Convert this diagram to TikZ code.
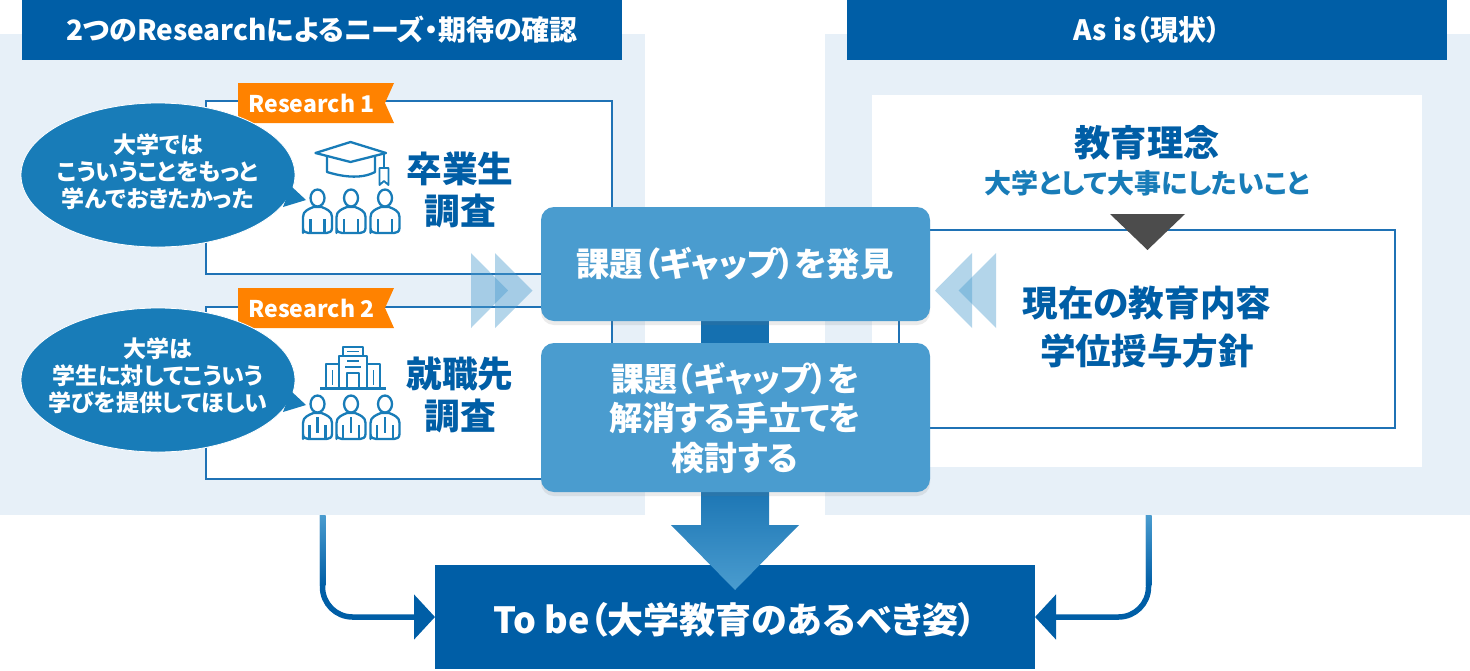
\documentclass[tikz,border=0pt]{standalone}
\usepackage{fontspec}
\setmainfont{Noto Sans CJK JP}[RawFeature={+palt}]
\usetikzlibrary{shapes.geometric,arrows.meta,shadows}
\definecolor{navy}{HTML}{005EA6}
\definecolor{sky}{HTML}{4A9CCF}
\definecolor{pale}{HTML}{E7F0F8}
\definecolor{orng}{HTML}{FF8200}
\definecolor{bub}{HTML}{187CB8}
\definecolor{edge}{HTML}{1F72B5}
\definecolor{mid}{HTML}{1570B0}
\newcommand{\fs}[2]{\fontsize{#1}{#2}\selectfont\bfseries}
\tikzset{
  x=1pt,y=-1pt,
  rect/.style={anchor=north west,inner sep=0pt,outer sep=0pt,text=white},
  panel/.style={rect,fill=pale},
  head/.style={rect,fill=navy},
  frame/.style={rect,fill=white,draw=edge,line width=1.5pt},
  bubble/.style={ellipse,fill=bub,draw=white,line width=.8pt,inner sep=0pt,minimum width=274pt,minimum height=144pt},
  bubbletext/.style={inner sep=0pt,text=white,align=center,font=\fs{23}{27}},
  tail/.style={fill=bub},
  ribbon/.style={fill=orng},
  ribbontext/.style={inner sep=0pt,text=white,font=\fs{23}{26}},
  title/.style={inner sep=0pt,text=navy,align=center,font=\fs{35.7}{41.5}},
  action/.style={rect,fill=sky,rounded corners=13pt,drop shadow={shadow xshift=0pt,shadow yshift=-4pt,opacity=.14,fill=black!55},align=center},
  chev/.style={fill=sky,fill opacity=.42},
  ico/.style={draw=bub,line width=2.3pt,line join=round,fill=white},
  link/.style={draw=navy,line width=5.5pt,rounded corners=30pt,-{Triangle[length=21pt,width=44pt]}},
  pics/student/.style={code={
    \draw[ico] (-14.5,36) -- (-14.5,20) .. controls (-14.5,14) and (-9,12) .. (-4,10) -- (4,10) .. controls (9,12) and (14.5,14) .. (14.5,20) -- (14.5,31) .. controls (14.5,34.5) and (12,36) .. (9,36) -- (-9,36) .. controls (-12,36) and (-14.5,34.5) .. (-14.5,31) -- cycle;
    \draw[ico] (0,1) ellipse [x radius=7,y radius=8.5];
    \draw[ico] (-7,22) -- (-7,36) (7,22) -- (7,36);
  }},
  pics/worker/.style={code={
    \draw[ico] (-14.5,36) -- (-14.5,20) .. controls (-14.5,14) and (-9,12) .. (-4,10) -- (4,10) .. controls (9,12) and (14.5,14) .. (14.5,20) -- (14.5,31) .. controls (14.5,34.5) and (12,36) .. (9,36) -- (-9,36) .. controls (-12,36) and (-14.5,34.5) .. (-14.5,31) -- cycle;
    \draw[ico] (0,1) ellipse [x radius=7,y radius=8.5];
    \draw[ico] (-8,22) -- (-8,36) (8,22) -- (8,36) (0,14) -- (0,30);
  }},
}
\begin{document}
\begin{tikzpicture}
\useasboundingbox (0,0) rectangle (1470,670);
% panels
\node[panel,minimum width=645pt,minimum height=481pt] (lp) at (0,34) {};
\node[panel,minimum width=645pt,minimum height=481pt] (rp) at (825,34) {};
\node[head,minimum width=600pt,minimum height=60pt] (lh) at (22,0) {};
\node[text=white,inner sep=0pt,font=\fs{28}{32}] (lht) at (322,30) {2つのResearchによるニーズ・期待の確認};
\node[head,minimum width=600pt,minimum height=60pt] (rh) at (847,0) {};
\node[text=white,inner sep=0pt,font=\fs{28}{32}] (rht) at (1147,30) {As is（現状）};
\node[rect,fill=white,minimum width=550pt,minimum height=372pt] (rw) at (872,95) {};
\node[frame,minimum width=406pt,minimum height=173pt] (r1) at (206,101) {};
\node[frame,minimum width=406pt,minimum height=172pt] (r2) at (206,307) {};
\node[frame,minimum width=496pt,minimum height=198pt] (now) at (899,230) {};
% right contents
\node[inner sep=0pt,text=navy,font=\fs{36.3}{42}] (rinen) at (1147,143) {教育理念};
\node[inner sep=0pt,text=bub,font=\fs{27}{32}] (rinen2) at (1147,183) {大学として大事にしたいこと};
\fill[black!70] (1110,214) -- (1185,214) -- (1147.5,250) -- cycle;
\node[inner sep=0pt,text=navy,align=center,font=\fs{35.6}{48}] (nowt) at (1147,327) {現在の教育内容\\学位授与方針};
% ribbons
\fill[ribbon] (238,83) -- (394,83) -- (385,103) -- (394,123) -- (238,123) -- cycle;
\node[ribbontext] (rb1) at (311.5,103) {Research 1};
\fill[ribbon] (238,288) -- (394,288) -- (385,308) -- (394,328) -- (238,328) -- cycle;
\node[ribbontext] (rb2) at (311.5,308) {Research 2};
% bubbles
\node[bubble] (b1) at (158,175) {};
\fill[tail] (291,186) -- (306,200) -- (283,207) -- cycle;
\node[bubbletext] (b1t) at (158,172) {大学では\\こういうことをもっと\\学んでおきたかった};
\node[bubble] (b2) at (158,380) {};
\fill[tail] (291,391) -- (306,405) -- (283,412) -- cycle;
\node[bubbletext] (b2t) at (158,376) {大学は\\学生に対してこういう\\学びを提供してほしい};
% icon: graduates
\draw[ico] (327,155) -- (327,172) .. controls (340,176) and (360,180) .. (375,172) -- (375,155);
\draw[ico] (315.5,153) -- (350.5,142) -- (386,153) -- (350.5,162) -- cycle;
\draw[ico,fill=none] (384,153) -- (384,168);
\draw[ico,line width=1.8pt] (379.5,168) -- (388.5,168) -- (388.5,185) -- (384,181) -- (379.5,185) -- cycle;
\pic at (317.5,197) {student};
\pic at (351,197) {student};
\pic at (385,197) {student};
% icon: company
\draw[ico] (343,357) -- (343,347) -- (363,347) -- (363,357);
\draw[ico] (326,387) -- (326,364) -- (339,364) (367,364) -- (380,364) -- (380,387);
\draw[ico] (339,387) -- (339,356) -- (367,356) -- (367,387);
\draw[ico,line width=1.6pt] (347,361) -- (359,361) (345,367) -- (361,367) (347,351.5) -- (359,351.5);
\draw[ico,line width=1.6pt] (347,387) -- (347,373) -- (359,373) -- (359,387);
\draw[ico,line width=1.6pt] (332.5,370) -- (332.5,385) (373.5,370) -- (373.5,385);
\draw[ico,line width=2.6pt] (320,388.5) -- (386,388.5);
\pic at (317.5,403) {worker};
\pic at (351,403) {worker};
\pic at (385,403) {worker};
% titles
\node[title] (t1) at (460,190) {卒業生\\調査};
\node[title] (t2) at (460,395) {就職先\\調査};
% chevrons
\fill[chev] (471,253) -- (508,290.5) -- (471,328) -- cycle;
\fill[chev] (495,253) -- (532.5,290.5) -- (495,328) -- cycle;
\fill[chev] (972,253) -- (935,290.5) -- (972,328) -- cycle;
\fill[chev] (996,253) -- (958.5,290.5) -- (996,328) -- cycle;
% To be
\node[rect,fill=navy,minimum width=600pt,minimum height=104pt] (tobe) at (435,565) {};
\node[inner sep=0pt,text=white,font=\fs{36}{42}] (tobet) at (735,620) {To be（大学教育のあるべき姿）};
% side connectors
\coordinate (sl) at (322.5,515);
\coordinate (sr) at (1148.5,515);
\draw[link] (sl) |- (tobe.west);
\draw[link] (sr) |- (tobe.east);
\shade[top color=sky,bottom color=navy] (319.75,515) rectangle (325.25,585);
\shade[top color=sky,bottom color=navy] (1145.75,515) rectangle (1151.25,585);
% centre arrows
\shade[top color=mid!85!sky,bottom color=sky] (701,492) -- (769,492) -- (769,525) -- (799,525) -- (735,590) -- (671,525) -- (701,525) -- cycle;
\fill[mid] (701,321) rectangle (769,343);
% action boxes
\node[action,minimum width=389pt,minimum height=114pt] (a1) at (541,207) {};
\node[inner sep=0pt,text=white,font=\fs{33.3}{39}] (a1t) at (735,264) {課題（ギャップ）を発見};
\node[action,minimum width=389pt,minimum height=149pt] (a2) at (541,343) {};
\node[inner sep=0pt,text=white,align=center,font=\fs{33}{39.5}] (a2t) at (735,418) {課題（ギャップ）を\\解消する手立てを\\検討する};
\end{tikzpicture}
\end{document}
